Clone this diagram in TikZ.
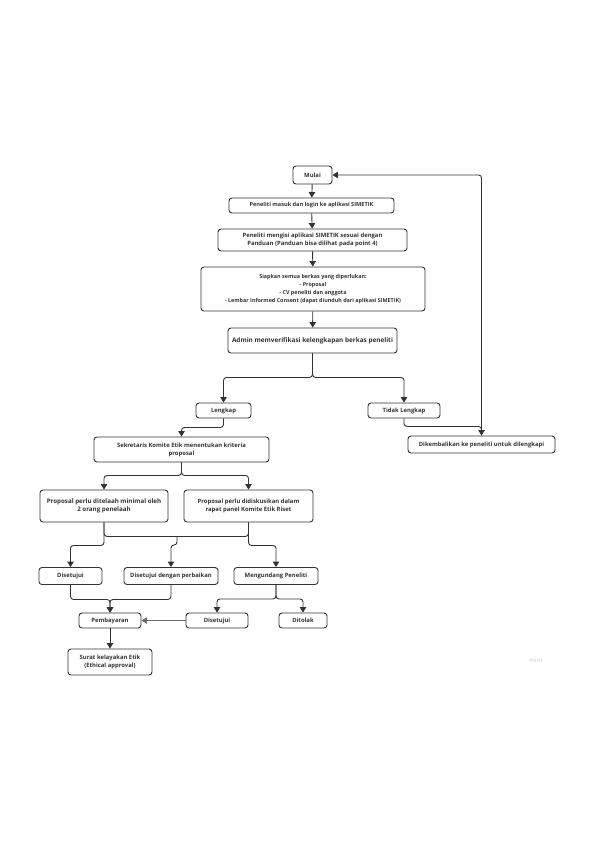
\documentclass[tikz,border=0pt]{standalone}
\usepackage{fontspec}
\setsansfont{Open Sans}
\usepackage{xcolor}
\usepackage{tikz}
\usetikzlibrary{arrows.meta, positioning}

\definecolor{ink}{HTML}{333333}

\begin{document}
\begin{tikzpicture}[
  x=1pt, y=-1pt,
  box/.style={draw=ink, rounded corners=3pt, fill=white, align=center,
    font=\fontsize{5.9}{8}\selectfont\sffamily\bfseries, text=ink,
    line width=0.9pt, inner sep=1pt},
  big/.style={font=\fontsize{#1}{8}\selectfont\sffamily\bfseries},
  arr/.style={-{Triangle[length=5.5pt, width=6.5pt]}, line width=0.9pt,
    draw=ink, rounded corners=3pt},
  watermark/.style={font=\fontsize{6}{7}\selectfont\sffamily, text=gray!40},
]
  \fill[white] (0,0) rectangle (595,842);

  % -- Main column --
  \node[box, minimum width=39pt, minimum height=18pt] (mulai) at (312.5,175) {Mulai};
  \node[box, big=5.6, minimum width=165pt, minimum height=15pt] (login) at (311.5,205.5)
    {Peneliti masuk dan login ke aplikasi SIMETIK};
  \node[box, minimum width=189pt, minimum height=22pt] (isi) at (312.5,240)
    {Peneliti mengisi aplikasi SIMETIK sesuai dengan\\Panduan (Panduan bisa dilihat pada point 4)};
  \node[box, big=5.4, minimum width=224pt, minimum height=44pt] (berkas) at (313,289)
    {Siapkan semua berkas yang diperlukan:\\- Proposal\\- CV peneliti dan anggota\\
     - Lembar Informed Consent (dapat diunduh dari aplikasi SIMETIK)};
  \node[box, big=6.4, minimum width=169pt, minimum height=25pt] (admin) at (312.5,340.5)
    {Admin memverifikasi kelengkapan berkas peneliti};

  % -- Verification result --
  \node[box, minimum width=55pt, minimum height=15pt] (lengkap) at (223.5,410.5) {Lengkap};
  \node[box, minimum width=72pt, minimum height=15pt] (tidak) at (404,410.5) {Tidak Lengkap};
  \node[box, minimum width=147pt, minimum height=17pt] (kembali) at (481.5,444.5)
    {Dikembalikan ke peneliti untuk dilengkapi};
  \node[box, minimum width=175pt, minimum height=25pt] (sekre) at (181.5,449.5)
    {Sekretaris Komite Etik menentukan kriteria\\proposal};

  % -- Review paths --
  \node[box, big=6.2, minimum width=128pt, minimum height=32pt] (telaah) at (104,506)
    {Proposal perlu ditelaah minimal oleh\\2 orang penelaah};
  \node[box, minimum width=129pt, minimum height=32pt] (diskusi) at (248.5,506)
    {Proposal perlu didiskusikan dalam\\rapat panel Komite Etik Riset};

  % -- Decisions --
  \node[box, minimum width=63pt, minimum height=17pt] (setuju) at (70.5,576) {Disetujui};
  \node[box, minimum width=94pt, minimum height=17pt] (perbaikan) at (171,576)
    {Disetujui dengan perbaikan};
  \node[box, minimum width=84pt, minimum height=17pt] (undang) at (276,576)
    {Mengundang Peneliti};
  \node[box, minimum width=62pt, minimum height=15pt] (bayar) at (110,620.5) {Pembayaran};
  \node[box, minimum width=62pt, minimum height=15pt] (setujub) at (217,620.5) {Disetujui};
  \node[box, minimum width=48pt, minimum height=15pt] (tolak) at (303,620.5) {Ditolak};
  \node[box, minimum width=84pt, minimum height=26pt] (surat) at (110,662)
    {Surat kelayakan Etik\\(Ethical approval)};

  \node[watermark] (miro) at (536,660) {miro};

  % -- Arrows --
  \draw[arr] (mulai) -- (login);
  \draw[arr] (login) -- (isi);
  \draw[arr] (isi) -- (berkas);
  \draw[arr] (berkas) -- (admin);
  \draw[arr] (admin.south) -- ++(0,24) -| (lengkap.north);
  \draw[arr] (admin.south) -- ++(0,24) -| (tidak.north);
  \draw[arr] (tidak.south) -- ++(0,8) -| (kembali.north);
  \draw[arr] (kembali.north) |- (mulai.east);
  \draw[arr] (lengkap.south) -- ++(0,9) -| (sekre.north);
  \draw[arr] (sekre.south) -- ++(0,13) -| (telaah.north);
  \draw[arr] (sekre.south) -- ++(0,13) -| (diskusi.north);

  % -- Merge of both review paths --
  \draw[line width=0.9pt, draw=ink, rounded corners=3pt]
    (telaah.south) -- ++(0,14) -| (diskusi.south);
  \coordinate (mrg) at (177,536);
  \draw[arr] (telaah.south) -- ++(0,23) -| (setuju.north);
  \draw[arr] (mrg) -- ++(0,9) -| (perbaikan.north);
  \draw[arr] (diskusi.south) -- ++(0,23) -| (undang.north);

  \draw[arr] (setuju.south) -- ++(0,14.5) -| (bayar.north);
  \draw[arr] (perbaikan.south) -- ++(0,14.5) -| (bayar.north);
  \draw[arr] (undang.south) -- ++(0,14) -| (setujub.north);
  \draw[arr] (undang.south) -- ++(0,14) -| (tolak.north);
  \draw[arr, draw=gray!75!ink] (setujub.west) -- (bayar.east);
  \draw[arr] (bayar) -- (surat);
\end{tikzpicture}
\end{document}
